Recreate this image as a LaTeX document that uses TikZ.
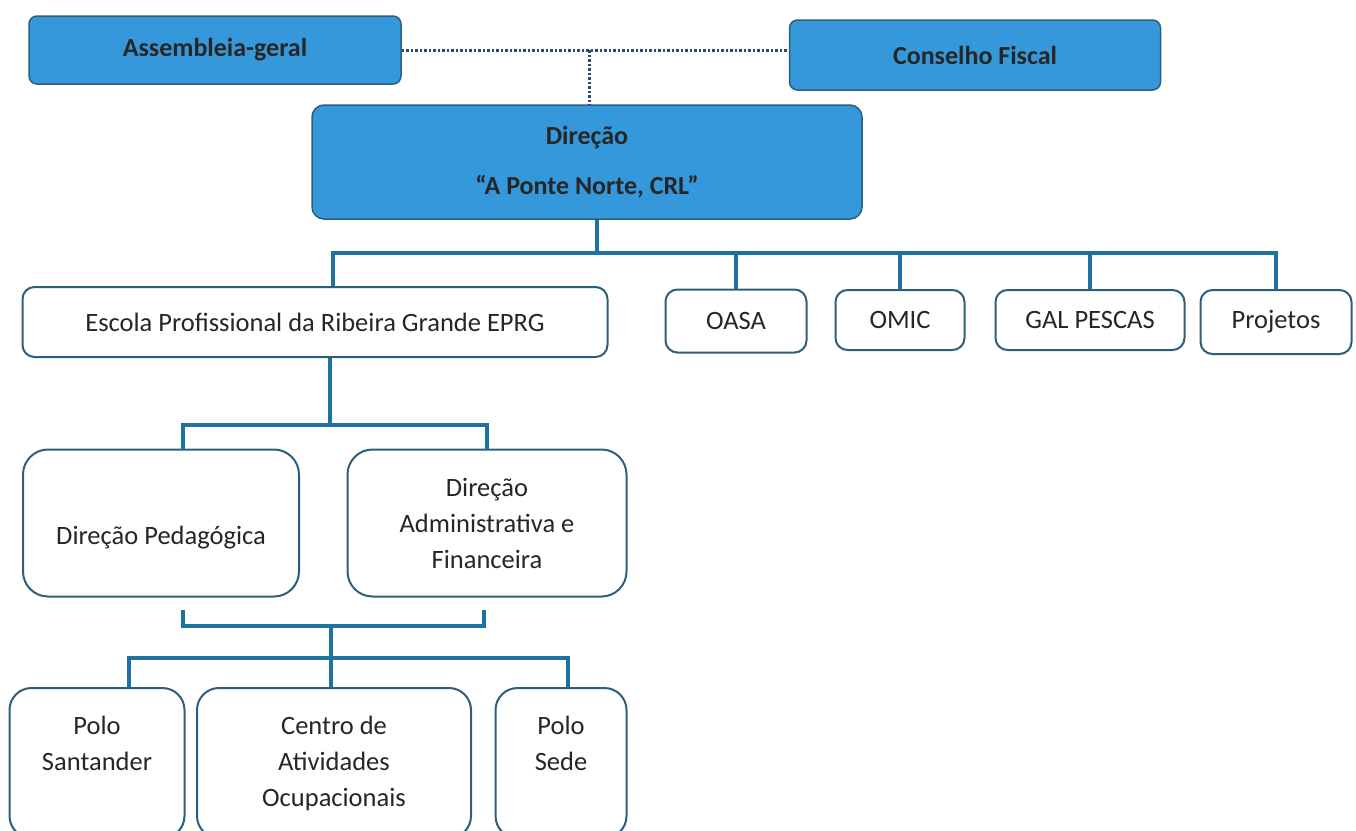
\documentclass[tikz,border=0pt]{standalone}
\usepackage{fontspec}
\setmainfont{Carlito}
\usepackage{tikz}
\usetikzlibrary{positioning}
\definecolor{boxblue}{RGB}{52,152,219}
\definecolor{boxedge}{RGB}{45,95,125}
\definecolor{lineblue}{RGB}{28,115,160}
\definecolor{dotgray}{RGB}{45,75,110}

\begin{document}
\begin{tikzpicture}[x=1pt, y=-1pt,
		top/.style = {draw=boxedge, fill=boxblue, line width=1.5pt, rounded corners=8pt, font=\fontsize{26}{50}\selectfont\bfseries, text=black!85, align=center},
		unit/.style = {draw=boxedge, fill=white, line width=2pt, rounded corners=12pt, font=\fontsize{26.5}{36}\selectfont, text=black!85, align=center},
		conn/.style = {draw=lineblue, line width=3.2pt},
		link/.style = {draw=dotgray, line width=3pt, dash pattern=on 2.5pt off 2pt}]
			\useasboundingbox (0,0) rectangle (1356,830);
			\node[top, minimum width=372pt, minimum height=68pt] (ag) at (215,50) {Assembleia-geral};
			\node[top, minimum width=371pt, minimum height=70pt] (cf) at (975,55) {Conselho Fiscal};
			\node[top, minimum width=550pt, minimum height=114pt, rounded corners=12pt] (dir) at (587,162) {Direção\\\textquotedblleft A Ponte Norte, CRL\textquotedblright};
		
			\node[unit, minimum width=585pt, minimum height=70pt] (eprg) at (315,322) {Escola Profissional da Ribeira Grande EPRG};
			\node[unit, minimum width=141pt, minimum height=63pt] (oasa) at (736,321) {OASA};
			\node[unit, minimum width=129pt, minimum height=60pt] (omic) at (900,320) {OMIC};
			\node[unit, minimum width=189pt, minimum height=60pt] (gal) at (1090,320) {GAL PESCAS};
			\node[unit, minimum width=151pt, minimum height=64pt] (proj) at (1276,322) {Projetos};
		
			\node[unit, minimum width=276pt, minimum height=147pt, rounded corners=25pt, text height=48pt] (dp) at (161,523) {Direção Pedagógica};
			\node[unit, minimum width=279pt, minimum height=147pt, rounded corners=25pt] (daf) at (487,523) {Direção\\Administrativa e\\Financeira};
		
			\node[unit, minimum width=175pt, minimum height=150pt, rounded corners=22pt, anchor=north] (ps) at (97,687) {Polo\\Santander\\\vphantom{Op}};
			\node[unit, minimum width=274pt, minimum height=150pt, rounded corners=22pt, anchor=north] (cao) at (334,687) {Centro de\\Atividades\\Ocupacionais};
			\node[unit, minimum width=131pt, minimum height=150pt, rounded corners=22pt, anchor=north] (psede) at (561,687) {Polo\\Sede\\\vphantom{Op}};
		
			\coordinate (top) at (589,50);
			\coordinate (b1) at (597,253);
			\coordinate (b2) at (330,425);
			\coordinate (b3) at (331,626);
			\coordinate (b4) at (331,658);
			\coordinate (d1) at (333,253);
			\coordinate (d2) at (183,425);
			\coordinate (d3) at (183,626);
			\coordinate (d4) at (484,626);
			\coordinate (d5) at (129,658);
			\coordinate (d6) at (568,658);
		
			\draw[link] (ag.east |- top) -- (cf.west |- top);
			\draw[link] (top) -- (dir.north -| top);
		
			\draw[conn] (dir.south -| b1) -- (b1);
			\draw[conn] (eprg.north -| d1) -- (d1) -- (proj.north |- b1) -- (proj.north);
			\draw[conn] (oasa.north |- b1) -- (oasa.north);
			\draw[conn] (omic.north |- b1) -- (omic.north);
			\draw[conn] (gal.north |- b1) -- (gal.north);
		
			\draw[conn] (eprg.south -| b2) -- (b2);
			\draw[conn] (dp.north -| d2) -- (d2) -- (daf.north |- b2) -- (daf.north);
		
			\draw[conn] ([yshift=-12pt]dp.south -| d3) -- (d3) -- (d4) -- ([yshift=-12pt]daf.south -| d4);
			\draw[conn] (b3) -- (b4);
			\draw[conn] (ps.north -| d5) -- (d5) -- (d6) -- (psede.north -| d6);
			\draw[conn] (b4) -- (cao.north -| b4);
		\end{tikzpicture}
\end{document}
